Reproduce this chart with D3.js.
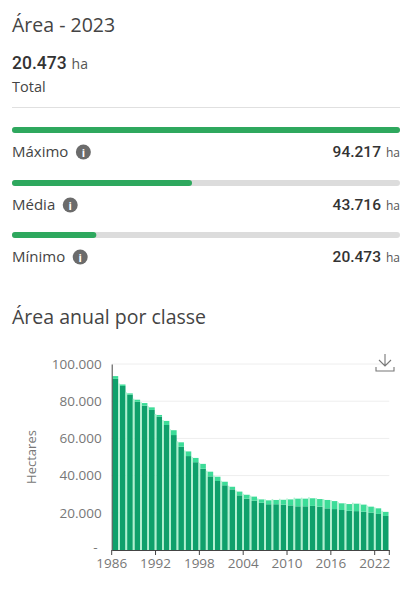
<!DOCTYPE html>
<html>
<head>
<meta charset="utf-8">
<script src="https://cdn.jsdelivr.net/npm/d3@7"></script>
<style>
  body { margin: 0; background: #fff; }
  svg { display: block; font-family: "Open Sans", sans-serif; }
  .num { font-family: Roboto, sans-serif; font-weight: 500; }
</style>
</head>
<body>
<div id="chart"></div>
<script>
// anos e áreas (ha)
const years = d3.range(1986, 2024);
const darkClass = [92000, 88200, 83500, 79700, 77600, 75300, 71700, 67200, 61800, 55500,
    50500, 47200, 43700, 39600, 37100, 34800, 32600, 29400, 27600, 26500,
    25400, 24600, 24600, 24400, 24000, 23500, 23500, 23700, 23300, 22400,
    22000, 21500, 21100, 20900, 20600, 20100, 19400, 18300];
const lightClass = [1500, 800, 700, 1100, 1400, 1400, 900, 2200, 2600, 2400,
    2500, 2300, 2600, 2500, 2300, 1900, 1400, 2000, 2100, 2200,
    1800, 2100, 2300, 2600, 3200, 4100, 4100, 4100, 4100, 4500,
    4300, 3600, 3600, 4000, 3800, 3200, 3000, 2200];
const yTicks = [0, 20000, 40000, 60000, 80000, 100000];
const xTickYears = [1986, 1992, 1998, 2004, 2010, 2016, 2022];

const statLabels = ['Máximo', 'Média', 'Mínimo'];
const statValues = [94217, 43716, 20473];
const totalValue = 20473;

const width = 414;
const height = 596;
const fmt = d3.format(',.0f');
const br = v => fmt(v).replace(/,/g, '.');

const svg = d3.select('#chart').append('svg')
    .attr('width', width)
    .attr('height', height);

// cabeçalho
svg.append('text').attr('x', 12).attr('y', 32)
    .attr('font-size', 19.5).attr('fill', '#444').text('Área - 2023');

const tot = svg.append('text').attr('x', 12).attr('y', 69).attr('fill', '#333');
tot.append('tspan').attr('class', 'num').attr('font-size', 17.5).text(br(totalValue));
tot.append('tspan').attr('font-size', 14).attr('fill', '#555').attr('dx', 5).text('ha');

svg.append('text').attr('x', 12).attr('y', 92)
    .attr('font-size', 14.5).attr('fill', '#444').text('Total');

svg.append('line').attr('x1', 12).attr('x2', 400).attr('y1', 107.5).attr('y2', 107.5)
    .attr('stroke', '#e0e0e0');

// barras de progresso
const px = d3.scaleLinear().domain([0, d3.max(statValues)]).range([12, 400]);
const rowY = d3.scaleOrdinal().domain(statLabels).range([130, 183, 235]);

const rows = svg.selectAll('g.stat')
    .data(statLabels)
    .enter().append('g')
    .attr('class', 'stat')
    .attr('transform', d => `translate(0, ${rowY(d)})`);

rows.append('rect')
    .attr('x', 12).attr('y', -3)
    .attr('width', px.range()[1] - 12).attr('height', 6)
    .attr('rx', 3).attr('fill', '#dcdcdc');

rows.append('rect')
    .attr('x', 12).attr('y', -3)
    .attr('width', (d, i) => px(statValues[i]) - 12).attr('height', 6)
    .attr('rx', 3).attr('fill', '#2ea85e');

rows.append('text')
    .attr('x', 12).attr('y', 27)
    .attr('font-size', 15).attr('fill', '#444')
    .text(d => d);

rows.each(function(d) {
    const g = d3.select(this);
    const w = g.select('text').node().getComputedTextLength();
    const icon = g.append('g').attr('transform', `translate(${12 + w + 15}, 22)`);
    icon.append('circle').attr('r', 7.5).attr('fill', '#6b6b6b');
    icon.append('text').attr('text-anchor', 'middle').attr('y', 4.5)
        .attr('font-size', 11).attr('font-weight', 700).attr('fill', '#fff').text('i');
});

const val = rows.append('text')
    .attr('x', 400).attr('y', 27)
    .attr('text-anchor', 'end').attr('fill', '#333');
val.append('tspan').attr('class', 'num').attr('font-size', 15.5)
    .text((d, i) => br(statValues[i]));
val.append('tspan').attr('font-size', 12).attr('fill', '#555').attr('dx', 5).text('ha');

// gráfico anual
svg.append('text').attr('x', 12).attr('y', 324)
    .attr('font-size', 19.5).attr('fill', '#444').text('Área anual por classe');

const margin = {left: 111.7, right: 389.3, top: 364, bottom: 550};

const x = d3.scaleBand()
    .domain(years)
    .range([margin.left, margin.right])
    .padding(0);

const y = d3.scaleLinear()
    .domain([0, 100000])
    .range([margin.bottom, margin.top]);

// grade
svg.append('g').selectAll('line')
    .data(yTicks.slice(1))
    .enter().append('line')
    .attr('x1', margin.left).attr('x2', margin.right)
    .attr('y1', d => y(d)).attr('y2', d => y(d))
    .attr('stroke', '#eeeeee');

const table = years.map((yr, i) => ({year: yr, dark: darkClass[i], light: lightClass[i]}));
const stack = d3.stack().keys(['dark', 'light'])(table);
const color = d3.scaleOrdinal().domain(['dark', 'light']).range(['#0fa06b', '#3ddc98']);

svg.append('g').selectAll('g')
    .data(stack)
    .enter().append('g')
    .attr('fill', d => color(d.key))
    .selectAll('rect')
    .data(d => d)
    .enter().append('rect')
    .attr('x', d => x(d.data.year) + 0.8)
    .attr('width', x.bandwidth() - 1.6)
    .attr('y', d => y(d[1]))
    .attr('height', d => y(d[0]) - y(d[1]));

// separadores entre barras
svg.append('g').selectAll('line')
    .data(years.slice(1))
    .enter().append('line')
    .attr('x1', d => x(d)).attr('x2', d => x(d))
    .attr('y1', (d, i) => y(darkClass[i + 1] + lightClass[i + 1]) - 1)
    .attr('y2', margin.bottom)
    .attr('stroke', '#aef2cf').attr('stroke-width', 1.6);

// eixo y
const yAxis = d3.axisLeft(y)
    .tickValues(yTicks)
    .tickSize(0)
    .tickPadding(10)
    .tickFormat(d => d === 0 ? '-' : br(d));

const gy = svg.append('g')
    .attr('transform', `translate(${margin.left}, 0)`)
    .call(yAxis);
gy.select('.domain').attr('stroke', '#444');
gy.selectAll('text').attr('font-size', 13.5).attr('fill', '#777')
    .attr('font-family', '"Open Sans", sans-serif');
gy.selectAll('.tick').filter(d => d === 0).select('text')
    .attr('x', -14).attr('dy', '0.1em');

// eixo x
const xAxis = d3.axisBottom(x)
    .tickValues(xTickYears)
    .tickSize(5)
    .tickPadding(3)
    .tickSizeOuter(0);

const gx = svg.append('g')
    .attr('transform', `translate(0, ${margin.bottom})`)
    .call(xAxis);
gx.select('.domain').attr('stroke', '#444');
gx.selectAll('.tick').attr('transform', d => `translate(${x(d)}, 0)`);
gx.selectAll('.tick line').attr('stroke', '#444');
gx.selectAll('text').attr('font-size', 13.5).attr('fill', '#777')
    .attr('font-family', '"Open Sans", sans-serif');
gx.append('line')
    .attr('x1', margin.right).attr('x2', margin.right)
    .attr('y1', 0).attr('y2', 5).attr('stroke', '#444');

svg.append('text')
    .attr('transform', `translate(36, ${(margin.top + margin.bottom) / 2}) rotate(-90)`)
    .attr('text-anchor', 'middle')
    .attr('font-size', 13).attr('fill', '#777')
    .text('Hectares');

// ícone de download
const dl = svg.append('g')
    .attr('transform', 'translate(385, 364)')
    .attr('fill', 'none').attr('stroke', '#777').attr('stroke-width', 1.1);
dl.append('path').attr('d', 'M0,-10 V2 M-6,-4 L0,2 L6,-4');
dl.append('path').attr('d', 'M-9,3 V7 H9 V3');
</script>
</body>
</html>
